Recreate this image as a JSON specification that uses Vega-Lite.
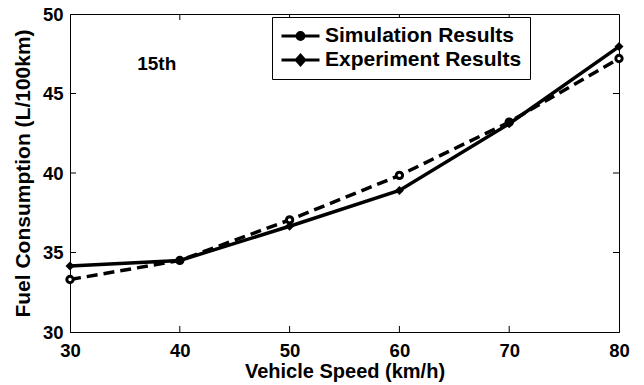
{
  "$schema": "https://vega.github.io/schema/vega-lite/v6.json",
  "width": 549,
  "height": 318,
  "autosize": {"type": "none"},
  "padding": {"left": 70, "top": 14, "right": 25, "bottom": 53},
  "background": "white",
  "config": {
    "view": {"stroke": "black", "strokeWidth": 1},
    "axis": {
      "domainColor": "black", "domainWidth": 1, "ticks": false,
      "grid": false, "labelFlush": false, "labelOverlap": false,
      "labelFont": "Liberation Sans", "labelFontSize": 18.5, "labelFontWeight": "bold", "labelColor": "black",
      "titleFont": "Liberation Sans", "titleFontSize": 20, "titleFontWeight": "bold", "titleColor": "black"
    }
  },
  "datasets": {
    "fuel": [
      {"speed": 30, "fuel": 33.3, "series": "Simulation Results"},
      {"speed": 40, "fuel": 34.5, "series": "Simulation Results"},
      {"speed": 50, "fuel": 37.05, "series": "Simulation Results"},
      {"speed": 60, "fuel": 39.85, "series": "Simulation Results"},
      {"speed": 70, "fuel": 43.2, "series": "Simulation Results"},
      {"speed": 80, "fuel": 47.2, "series": "Simulation Results"},
      {"speed": 30, "fuel": 34.15, "series": "Experiment Results"},
      {"speed": 40, "fuel": 34.5, "series": "Experiment Results"},
      {"speed": 50, "fuel": 36.65, "series": "Experiment Results"},
      {"speed": 60, "fuel": 38.9, "series": "Experiment Results"},
      {"speed": 70, "fuel": 43.1, "series": "Experiment Results"},
      {"speed": 80, "fuel": 47.95, "series": "Experiment Results"}
    ],
    "xticks": [{"t": 40}, {"t": 50}, {"t": 60}, {"t": 70}],
    "yticks": [{"t": 35}, {"t": 40}, {"t": 45}],
    "note": [{"label": "15th"}]
  },
  "layer": [
    {
      "data": {"name": "fuel"},
      "transform": [{"filter": "datum.series === 'Simulation Results'"}],
      "mark": {"type": "line", "strokeWidth": 3.5, "color": "black", "strokeDash": [11, 6]},
      "encoding": {
        "x": {"field": "speed", "type": "quantitative",
              "scale": {"domain": [30, 80], "nice": false, "zero": false},
              "axis": {"orient": "bottom", "values": [30, 40, 50, 60, 70, 80], "title": "Vehicle Speed (km/h)",
                       "labelPadding": 9, "titlePadding": 2}},
        "y": {"field": "fuel", "type": "quantitative",
              "scale": {"domain": [30, 50], "nice": false, "zero": false},
              "axis": {"orient": "left", "values": [30, 35, 40, 45, 50], "title": "Fuel Consumption (L/100km)",
                       "labelPadding": 7, "titlePadding": 9, "titleFontSize": 21}}
      }
    },
    {
      "data": {"name": "fuel"},
      "transform": [{"filter": "datum.series === 'Experiment Results'"}],
      "mark": {"type": "line", "strokeWidth": 3.5},
      "encoding": {
        "x": {"field": "speed", "type": "quantitative", "axis": null},
        "y": {"field": "fuel", "type": "quantitative", "axis": null},
        "color": {"field": "series", "type": "nominal",
          "scale": {"domain": ["Simulation Results", "Experiment Results"], "range": ["black", "black"]},
          "legend": {
            "title": null, "orient": "none", "legendX": 202, "legendY": 3,
            "strokeColor": "black", "fillColor": "white", "padding": 8,
            "symbolSize": 361, "symbolOffset": 9.5, "labelOffset": 13.5, "rowPadding": 3,
            "symbolStrokeWidth": 3, "labelLimit": 400,
            "labelFont": "Liberation Sans", "labelFontSize": 21, "labelFontWeight": "bold", "labelColor": "black",
            "encode": {"symbols": {"update": {
              "shape": {"signal": "datum.value === 'Simulation Results' ? 'M-2,0H2M0.36,0A0.36,0.36,0,1,1,-0.36,0A0.36,0.36,0,1,1,0.36,0Z' : 'M-2,0H2M0,-0.5L0.45,0L0,0.5L-0.45,0Z'"},
              "fill": {"value": "black"},
              "stroke": {"value": "black"},
              "strokeWidth": {"value": 3}
            }}}
          }
        }
      }
    },
    {
      "data": {"name": "fuel"},
      "transform": [{"filter": "datum.series === 'Simulation Results'"}],
      "mark": {"type": "point", "shape": "circle", "filled": false, "stroke": "black", "fill": "white", "strokeWidth": 3, "size": 40, "opacity": 1},
      "encoding": {
        "x": {"field": "speed", "type": "quantitative", "axis": null},
        "y": {"field": "fuel", "type": "quantitative", "axis": null}
      }
    },
    {
      "data": {"name": "fuel"},
      "transform": [{"filter": "datum.series === 'Experiment Results'"}],
      "mark": {"type": "point", "shape": "diamond", "filled": true, "color": "black", "size": 80, "opacity": 1},
      "encoding": {
        "x": {"field": "speed", "type": "quantitative", "axis": null},
        "y": {"field": "fuel", "type": "quantitative", "axis": null}
      }
    },
    {
      "data": {"name": "xticks"},
      "mark": {"type": "rule", "color": "black", "strokeWidth": 1},
      "encoding": {
        "x": {"field": "t", "type": "quantitative", "axis": null},
        "y": {"datum": 30, "type": "quantitative", "axis": null},
        "y2": {"datum": 30.38}
      }
    },
    {
      "data": {"name": "xticks"},
      "mark": {"type": "rule", "color": "black", "strokeWidth": 1},
      "encoding": {
        "x": {"field": "t", "type": "quantitative", "axis": null},
        "y": {"datum": 50, "type": "quantitative", "axis": null},
        "y2": {"datum": 49.62}
      }
    },
    {
      "data": {"name": "yticks"},
      "mark": {"type": "rule", "color": "black", "strokeWidth": 1},
      "encoding": {
        "y": {"field": "t", "type": "quantitative", "axis": null},
        "x": {"datum": 30, "type": "quantitative", "axis": null},
        "x2": {"datum": 30.55}
      }
    },
    {
      "data": {"name": "yticks"},
      "mark": {"type": "rule", "color": "black", "strokeWidth": 1},
      "encoding": {
        "y": {"field": "t", "type": "quantitative", "axis": null},
        "x": {"datum": 80, "type": "quantitative", "axis": null},
        "x2": {"datum": 79.45}
      }
    },
    {
      "data": {"name": "note"},
      "mark": {"type": "text", "font": "Liberation Sans", "fontSize": 19, "fontWeight": "bold", "color": "black", "align": "center", "baseline": "alphabetic"},
      "encoding": {
        "x": {"datum": 37.9, "type": "quantitative", "axis": null},
        "y": {"datum": 46.48, "type": "quantitative", "axis": null},
        "text": {"field": "label"}
      }
    }
  ],
  "resolve": {"axis": {"x": "independent", "y": "independent"}}
}
